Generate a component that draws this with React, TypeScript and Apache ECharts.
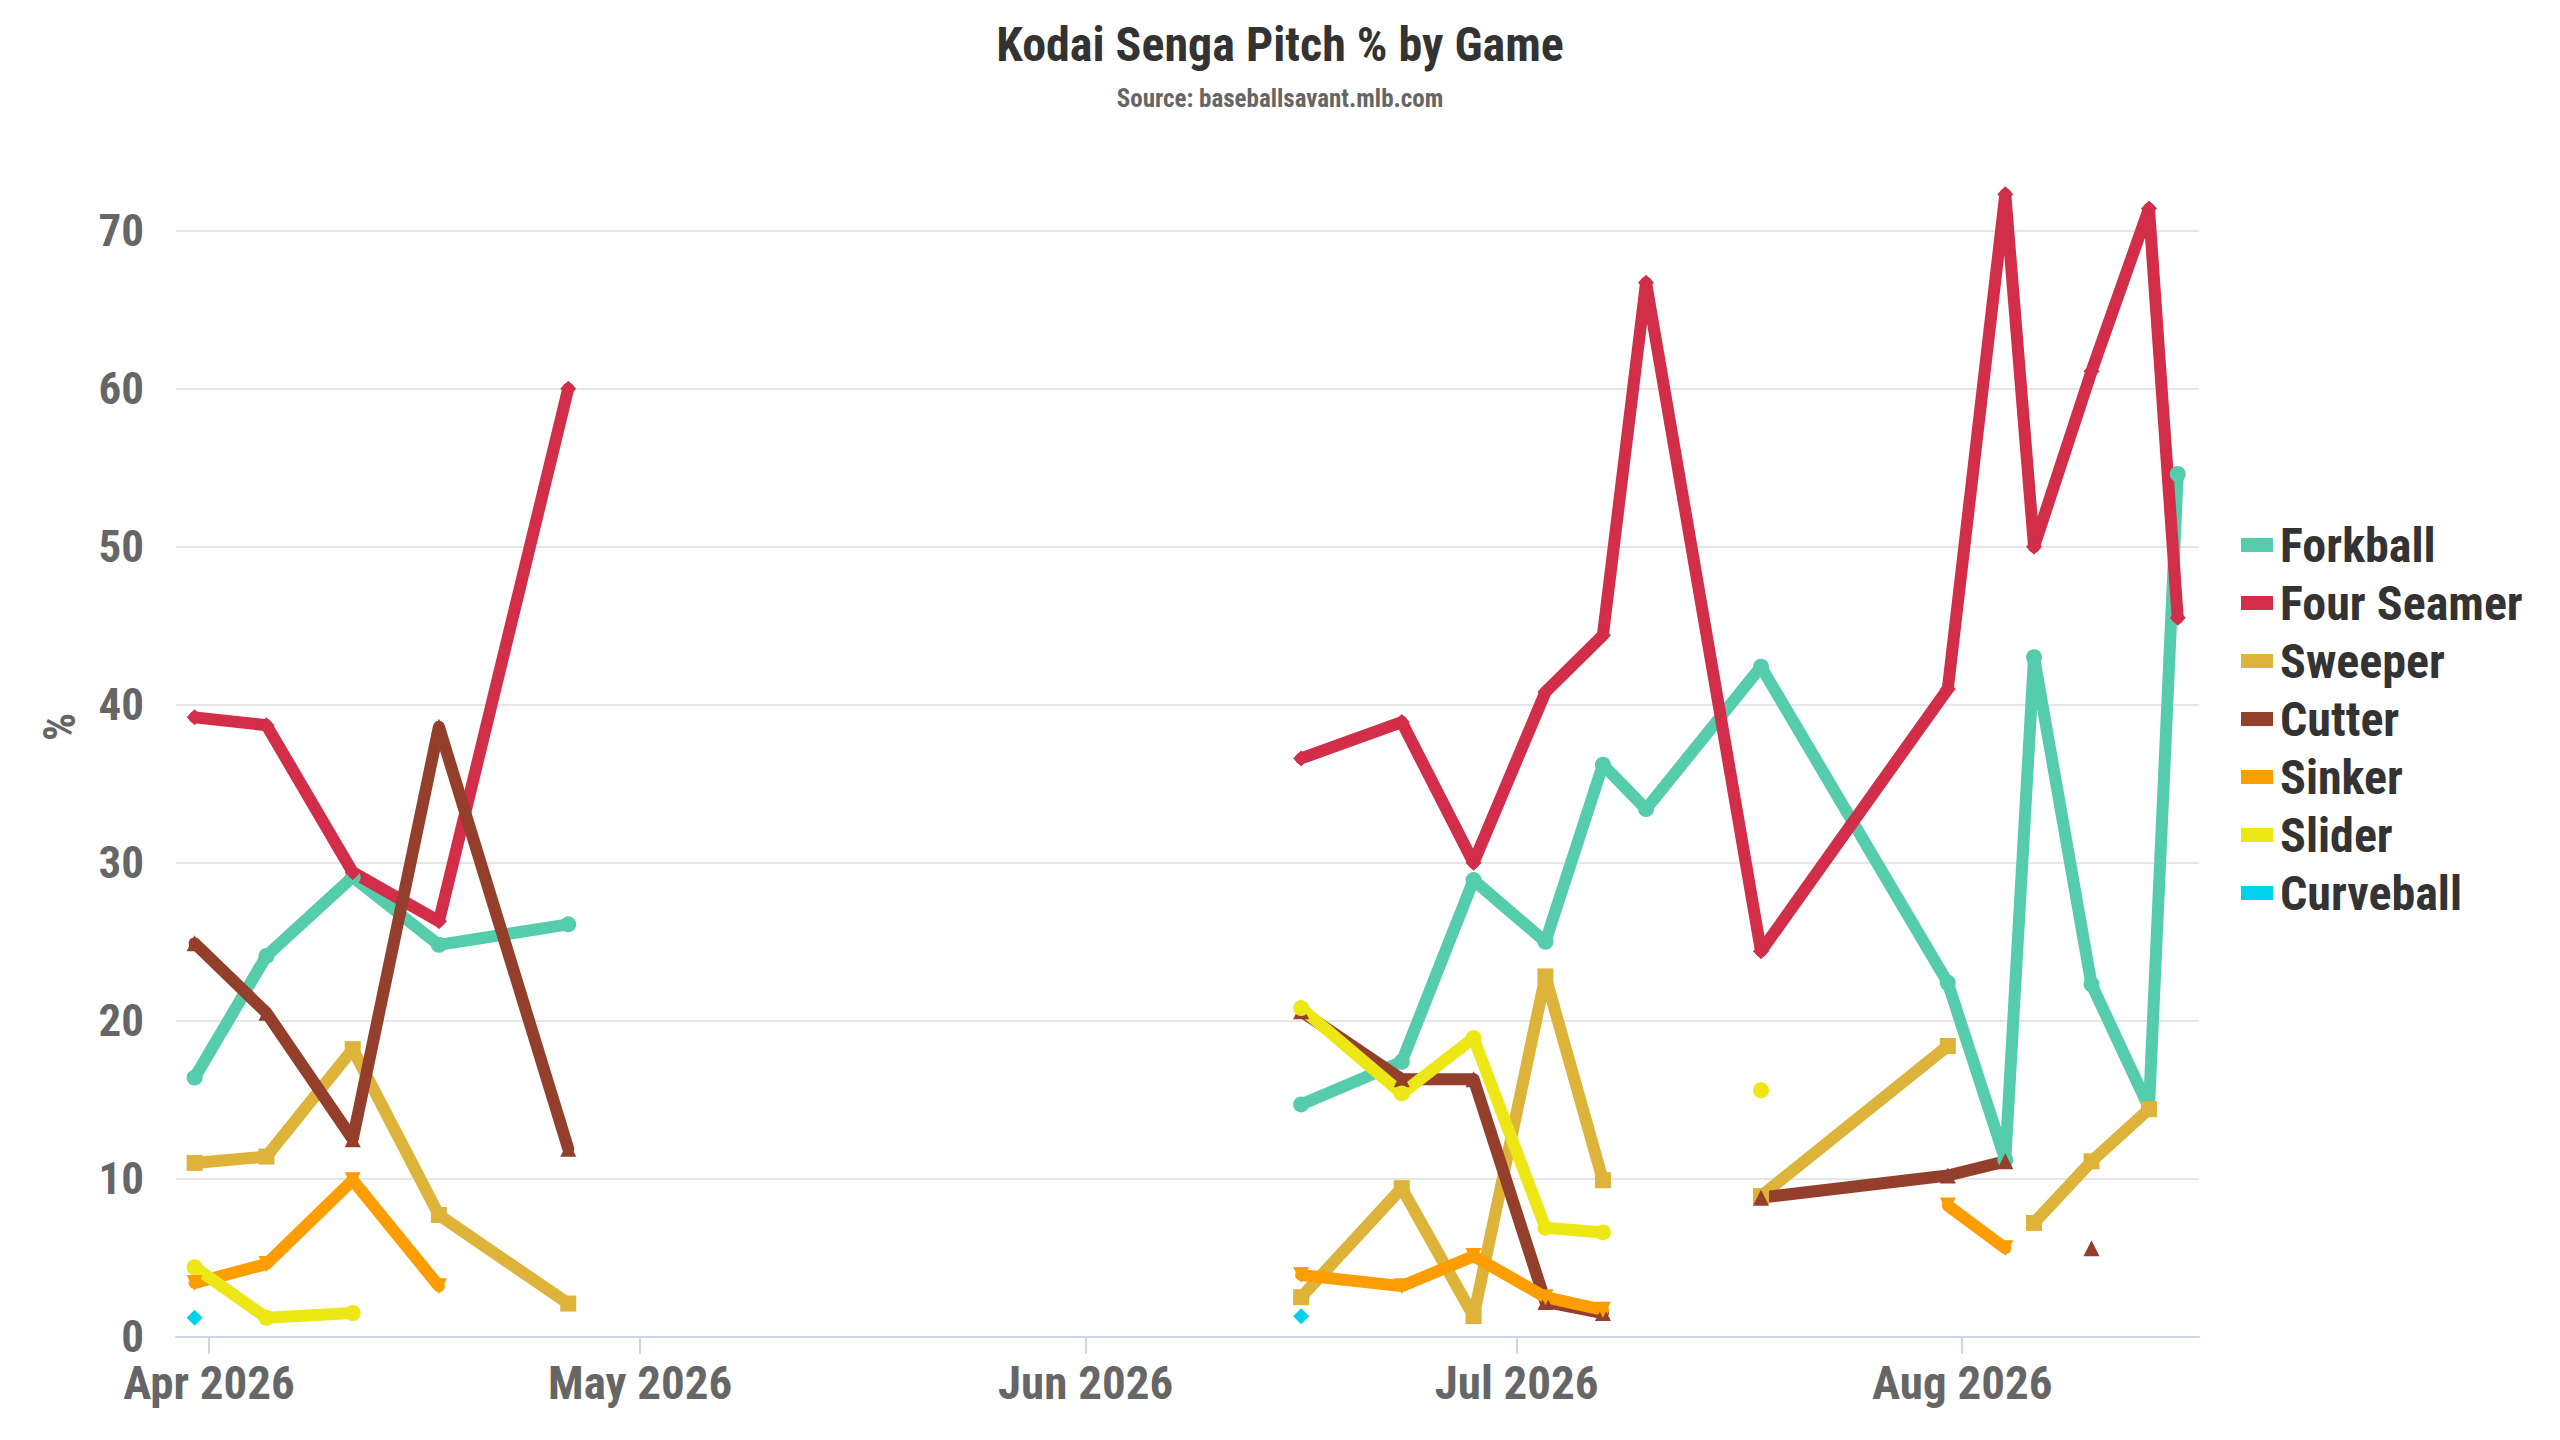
import React, { useEffect, useRef } from "react";
import * as echarts from "echarts";

const FONT = "'Roboto Condensed', 'DejaVu Sans Condensed', 'Liberation Sans Narrow', Roboto, sans-serif";

// Game dates (one null "gap" entry marks the stretch with no games)
const gameDates = [
  "2026-03-31", "2026-04-05", "2026-04-11", "2026-04-17", "2026-04-26",
  "2026-05-21",
  "2026-06-16", "2026-06-23", "2026-06-28", "2026-07-03", "2026-07-07",
  "2026-07-10", "2026-07-18", "2026-07-31", "2026-08-04", "2026-08-06",
  "2026-08-10", "2026-08-14", "2026-08-16",
];

const forkball = [16.4, 24.1, 29.1, 24.8, 26.1, null, 14.7, 17.4, 28.9, 25.0, 36.2, 33.4, 42.4, 22.4, 11.2, 43.0, 22.3, 14.5, 54.6];
const fourSeamer = [39.2, 38.7, 29.4, 26.3, 60.0, null, 36.6, 38.9, 30.0, 40.8, 44.4, 66.7, 24.4, 41.0, 72.3, 50.0, 61.1, 71.4, 45.5];
const sweeper = [11.0, 11.4, 18.2, 7.7, 2.1, null, 2.5, 9.4, 1.3, 22.8, 9.9, null, 8.9, 18.4, null, 7.2, 11.1, 14.4, null];
const cutter = [24.9, 20.5, 12.5, 38.6, 11.9, null, 20.6, 16.3, 16.3, 2.2, 1.5, null, 8.8, 10.2, 11.1, null, 5.6, null, null];
const sinker = [3.4, 4.6, 9.9, 3.2, null, null, 3.9, 3.2, 5.1, 2.5, 1.7, null, null, 8.3, 5.6, null, null, null, null];
const slider = [4.4, 1.2, 1.5, null, null, null, 20.8, 15.4, 18.9, 6.9, 6.6, null, 15.6, null, null, null, null, null, null];
const curveball = [1.2, null, null, null, null, null, 1.3, null, null, null, null, null, null, null, null, null, null, null, null];

const seriesNames = ["Forkball", "Four Seamer", "Sweeper", "Cutter", "Sinker", "Slider", "Curveball"];
const seriesValues = [forkball, fourSeamer, sweeper, cutter, sinker, slider, curveball];
const seriesColors = ["#55ccab", "#d22d49", "#ddb33a", "#933f2c", "#fe9d00", "#eee716", "#00d1ed"];
const seriesSymbols = ["circle", "diamond", "rect", "triangle", "triangle", "circle", "diamond"];
const seriesSymbolRotate = [0, 0, 0, 0, 180, 0, 0];

const monthTickDates = ["2026-04-01", "2026-05-01", "2026-06-01", "2026-07-01", "2026-08-01"];
const monthTickLabels = ["Apr 2026", "May 2026", "Jun 2026", "Jul 2026", "Aug 2026"];

const yTicks = { min: 0, max: 70, interval: 10 };

const titleText = "Kodai Senga Pitch % by Game";
const subtitleText = "Source: baseballsavant.mlb.com";

const DAY = 86400000;
const toMs = (d: string) => Date.parse(d + "T00:00:00Z");

export default function App() {
  const ref = useRef<HTMLDivElement>(null);

  useEffect(() => {
    if (!ref.current) return;
    const chart = echarts.init(ref.current, null, { renderer: "svg" });
    const apr1 = toMs("2026-04-01");
    const tickMs = monthTickDates.map(toMs);

    const series = seriesNames.map((name, si) => ({
      name,
      type: "line",
      data: gameDates.map((d, i) => [toMs(d), seriesValues[si][i]]),
      connectNulls: false,
      clip: false,
      symbol: seriesSymbols[si],
      symbolRotate: seriesSymbolRotate[si],
      symbolSize: 16,
      showSymbol: true,
      showAllSymbol: true,
      color: seriesColors[si],
      itemStyle: { color: seriesColors[si] },
      lineStyle: { width: 12, color: seriesColors[si], cap: "round", join: "round" },
      emphasis: { disabled: true },
    }));

    chart.setOption({
      animation: false,
      backgroundColor: "#ffffff",
      textStyle: { fontFamily: FONT },
      grid: { left: 176, right: 361, top: 230.7, bottom: 103.3, containLabel: false },
      xAxis: {
        type: "value",
        min: apr1 - 2.296 * DAY,
        max: apr1 + 138.48 * DAY,
        axisLine: { show: true, lineStyle: { color: "#ccd6eb", width: 2 } },
        axisTick: {
          show: true,
          customValues: tickMs,
          length: 17,
          lineStyle: { color: "#ccd6eb", width: 2 },
        },
        axisLabel: {
          customValues: tickMs,
          formatter: (v: number) => {
            const idx = tickMs.indexOf(v);
            return idx >= 0 ? monthTickLabels[idx] : "";
          },
          margin: 28,
          lineHeight: 36,
          color: "#666666",
          fontSize: 47,
          fontWeight: "bold",
          fontFamily: FONT,
        },
        splitLine: { show: false },
      },
      yAxis: {
        type: "value",
        min: yTicks.min,
        max: yTicks.max,
        interval: yTicks.interval,
        axisLine: { show: false },
        axisTick: { show: false },
        axisLabel: {
          margin: 32,
          lineHeight: 34,
          color: "#666666",
          fontSize: 45,
          fontWeight: "bold",
          fontFamily: FONT,
        },
        splitLine: { show: true, lineStyle: { color: "#e6e6e6", width: 2 } },
      },
      legend: {
        orient: "vertical",
        left: 2236,
        top: 516,
        icon: "rect",
        itemWidth: 32,
        itemHeight: 14,
        itemGap: 10,
        data: seriesNames,
        textStyle: {
          color: "#333333",
          fontSize: 48,
          fontWeight: "bold",
          fontFamily: FONT,
          lineHeight: 46,
          padding: [0, 0, 0, 2],
        },
        selectedMode: false,
      },
      graphic: [
        {
          type: "text",
          left: "center",
          top: 20,
          style: {
            text: titleText,
            fill: "#333333",
            font: `bold 48px ${FONT}`,
          },
        },
        {
          type: "text",
          left: "center",
          top: 86,
          style: {
            text: subtitleText,
            fill: "#666666",
            font: `bold 25px ${FONT}`,
          },
        },
        {
          type: "text",
          x: 60,
          y: 727,
          rotation: Math.PI / 2,
          style: {
            text: "%",
            fill: "#666666",
            font: `bold 44px ${FONT}`,
            textAlign: "center",
            textVerticalAlign: "middle",
          },
        },
      ],
      series,
    });

    return () => chart.dispose();
  }, []);

  return (
    <div
      ref={ref}
      style={{ position: "fixed", left: 0, top: 0, width: 2560, height: 1440, background: "#fff" }}
    />
  );
}
